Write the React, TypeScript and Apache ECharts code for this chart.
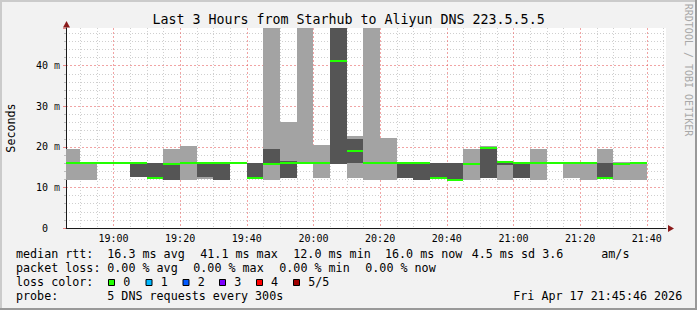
import React, { useEffect, useRef } from 'react';
import * as echarts from 'echarts';

const FONT = '"DejaVu Sans Mono", monospace';
const TITLE = 'Last 3 Hours from Starhub to Aliyun DNS 223.5.5.5';
const Y_NAME = 'Seconds';
const WATERMARK = 'RRDTOOL / TOBI OETIKER';
const AXIS_START = '18:45:46';
const AXIS_END = '21:45:46';
const STEP_MINUTES = 5;
const Y_MAX = 49.3;

// end of each 5-minute step (HH:MM)
const stepEnds = [
  '18:50', '18:55', '19:00', '19:05', '19:10', '19:15', '19:20', '19:25', '19:30', '19:35',
  '19:40', '19:45', '19:50', '19:55', '20:00', '20:05', '20:10', '20:15', '20:20', '20:25',
  '20:30', '20:35', '20:40', '20:45', '20:50', '20:55', '21:00', '21:05', '21:10', '21:15',
  '21:20', '21:25', '21:30', '21:35', '21:40',
];
// outer smoke (light grey): lowest / highest ping, ms
const smokeLow = [
  11.9, 11.9, null, null, null, null, 11.9, 11.9, 12.2, null,
  null, null, 11.9, 12.3, 15.9, 12.3, null, 12.3, 11.9, 11.9,
  null, null, null, null, 11.9, 12.4, 11.9, null, 11.9, 15.9,
  12.4, 11.9, 12.2, 11.9, 11.9,
];
const smokeHigh = [
  19.5, 16.3, null, null, null, null, 19.5, 20.1, 16.3, null,
  null, null, 55, 26.1, 55, 20.5, null, 22.7, 55, 22.2,
  null, null, null, null, 19.5, 20.1, 16.3, null, 19.5, 16.3,
  15.9, 15.9, 19.5, 16.3, 15.9,
];
// inner smoke (dark grey): 2nd / 4th ping, ms
const coreLow = [
  null, null, null, null, 12.5, 12.0, 11.9, null, 12.5, 11.9,
  null, 12.1, 15.9, 12.3, null, null, 15.8, 15.9, null, null,
  12.3, 11.9, 12.1, 11.7, null, 12.4, 15.6, 12.4, null, null,
  null, null, 12.2, null, null,
];
const coreHigh = [
  null, null, null, null, 15.9, 15.9, 15.7, null, 15.9, 15.9,
  null, 15.9, 19.5, 16.4, null, null, 55, 22.0, null, null,
  15.9, 15.9, 15.9, 15.9, null, 19.9, 16.3, 15.9, null, null,
  null, null, 15.9, null, null,
];
// median rtt, ms
const medianRtt = [
  15.9, 15.9, 15.9, 15.9, 15.9, 12.4, 15.7, 15.9, 15.9, 15.9,
  15.9, 12.4, 15.8, 16.0, 15.9, 15.9, 41.1, 18.9, 15.9, 15.9,
  15.9, 15.9, 12.4, 11.9, 15.7, 19.6, 16.3, 15.9, 15.9, 15.9,
  15.9, 15.9, 12.4, 15.7, 15.9,
];

const rttLabel = 'median rtt:';
const rttStats = ['16.3 ms avg', '41.1 ms max', '12.0 ms min', '16.0 ms now', '4.5 ms sd', '3.6', 'am/s'];
const lossLabel = 'packet loss:';
const lossStats = ['0.00 % avg', '0.00 % max', '0.00 % min', '0.00 % now'];
const lossColorLabel = 'loss color:';
const lossColorNames = ['0', '1', '2', '3', '4', '5/5'];
const lossColorValues = ['#22ff00', '#00b8ff', '#0059ff', '#7e00ff', '#ff0000', '#a10000'];
const probeLabel = 'probe:';
const probeText = '5 DNS requests every 300s';
const dateText = 'Fri Apr 17 21:45:46 2026';

const LIGHT = '#a3a3a3';
const DARK = '#555555';
const MEDIAN = lossColorValues[0];

function toMinutes(s: string): number {
  const p = s.split(':').map(Number);
  return p[0] * 60 + p[1] + (p[2] || 0) / 60;
}
function fmtTime(v: number): string {
  const m = Math.round(v);
  const h = Math.floor(m / 60);
  const mm = m % 60;
  return String(h).padStart(2, '0') + ':' + String(mm).padStart(2, '0');
}

const rows = stepEnds.map((t, i) => [
  toMinutes(t), smokeLow[i], smokeHigh[i], coreLow[i], coreHigh[i], medianRtt[i],
]);

function txt(text: string, x: number, y: number, size: number, extra: any = {}) {
  return {
    type: 'text', x, y, silent: true,
    style: {
      text, fill: '#000', font: `${size}px "DejaVu Sans Mono"`,
      textAlign: 'left', align: 'left', textVerticalAlign: 'middle', verticalAlign: 'middle',
      ...extra,
    },
  };
}

export default function App() {
  const ref = useRef<HTMLDivElement>(null);
  useEffect(() => {
    if (!ref.current) return;
    const chart = echarts.init(ref.current, null, { renderer: 'svg' });

    const rttX = [107.3, 200.3, 293.3, 385, 471.7, 542.3, 601.3];
    const lossX = [107.3, 193.3, 279.3, 365.3];
    const colorSqX = [108.5, 146, 183, 219.5, 256.5, 293.5];
    const colorTxtX = [123.3, 160.7, 197.7, 234.3, 271, 308.3];
    const LS = 11.7;
    const rowY = [253.5, 267.8, 282, 296.3];

    const graphics: any[] = [
      // bevel frame
      { type: 'rect', shape: { x: 0, y: 0, width: 697, height: 2 }, style: { fill: '#cbcbcb' }, silent: true },
      { type: 'rect', shape: { x: 0, y: 0, width: 2, height: 310 }, style: { fill: '#cbcbcb' }, silent: true },
      { type: 'rect', shape: { x: 0, y: 308, width: 697, height: 2 }, style: { fill: '#999999' }, silent: true },
      { type: 'rect', shape: { x: 695, y: 0, width: 2, height: 310 }, style: { fill: '#999999' }, silent: true },
      txt(TITLE, 348.5, 19.5, 13.3, { textAlign: 'center', align: 'center' }),
      {
        type: 'text', x: 688.5, y: 70, rotation: -Math.PI / 2, silent: true,
        style: {
          text: WATERMARK, fill: '#a8a8a8', font: '10px "DejaVu Sans Mono"',
          textAlign: 'center', align: 'center', textVerticalAlign: 'middle', verticalAlign: 'middle',
        },
      },
      // arrows
      { type: 'polygon', shape: { points: [[668, 225], [674, 228.5], [668, 232]] }, style: { fill: '#8b1a1a' }, silent: true },
      { type: 'polygon', shape: { points: [[63, 27.5], [66.5, 21], [70, 27.5]] }, style: { fill: '#8b1a1a' }, silent: true },
      txt(rttLabel, 16, rowY[0], LS),
      ...rttStats.map((s, i) => txt(s, rttX[i], rowY[0], LS)),
      txt(lossLabel, 16, rowY[1], LS),
      ...lossStats.map((s, i) => txt(s, lossX[i], rowY[1], LS)),
      txt(lossColorLabel, 16, rowY[2], LS),
      ...lossColorNames.map((s, i) => txt(s, colorTxtX[i], rowY[2], LS)),
      ...lossColorValues.map((c, i) => ({
        type: 'rect', silent: true,
        shape: { x: colorSqX[i], y: 279.5, width: 6, height: 6 },
        style: { fill: c, stroke: '#000', lineWidth: 1 },
      })),
      txt(probeLabel, 16, rowY[3], LS),
      txt(probeText, 107.3, rowY[3], LS),
      txt(dateText, 513.3, rowY[3], LS),
    ];

    const option: any = {
      animation: false,
      backgroundColor: '#f2f2f2',
      textStyle: { fontFamily: FONT },
      grid: {
        left: 66, top: 28, width: 600, height: 200,
        show: true, backgroundColor: '#ffffff', borderWidth: 0,
        outerBoundsMode: 'none', containLabel: false,
      },
      xAxis: {
        type: 'value',
        min: toMinutes(AXIS_START),
        max: toMinutes(AXIS_END),
        splitNumber: 9,
        axisLine: { show: true, onZero: false, lineStyle: { color: '#1a1a1a', width: 1 } },
        axisTick: { show: false },
        axisLabel: {
          formatter: (v: number) => fmtTime(v),
          showMinLabel: false, showMaxLabel: false,
          fontFamily: FONT, fontSize: 10, color: '#000', margin: 5,
        },
        splitLine: {
          show: true, showMinLine: false, showMaxLine: false,
          lineStyle: { color: 'rgba(230,90,90,0.55)', type: [2, 2], width: 1 },
        },
        minorTick: { show: false, splitNumber: 4 },
        minorSplitLine: { show: true, lineStyle: { color: '#cfcfcf', type: [1, 2], width: 1 } },
      },
      yAxis: {
        type: 'value',
        min: 0, max: Y_MAX, interval: 10,
        name: Y_NAME, nameLocation: 'middle', nameGap: 49, nameRotate: 90,
        nameTextStyle: { fontFamily: FONT, fontSize: 11.7, color: '#000' },
        axisLine: { show: true, onZero: false, lineStyle: { color: '#1a1a1a', width: 1 } },
        axisTick: { show: true, length: 3, lineStyle: { color: 'rgba(230,90,90,0.7)' } },
        minorTick: { show: true, splitNumber: 5, length: 2, lineStyle: { color: '#bdbdbd' } },
        axisLabel: {
          showMaxLabel: false,
          margin: 6,
          formatter: (v: number) => (v === 0 ? '{n|0}{u| }' : `{n|${v}}{u|m}`),
          rich: {
            n: { fontFamily: FONT, fontSize: 10, color: '#000' },
            u: { fontFamily: FONT, fontSize: 10, color: '#222', width: 12, align: 'right' },
          },
        },
        splitLine: {
          show: true, showMinLine: false, showMaxLine: false,
          lineStyle: { color: 'rgba(230,90,90,0.55)', type: [2, 2], width: 1 },
        },
        minorSplitLine: { show: true, lineStyle: { color: '#cfcfcf', type: [1, 2], width: 1 } },
      },
      series: [
        {
          type: 'custom',
          silent: true,
          clip: true,
          data: rows,
          encode: { x: 0, y: [1, 2, 3, 4, 5] },
          renderItem: (params: any, api: any) => {
            const end = api.value(0);
            const start = end - STEP_MINUTES;
            const cs = params.coordSys;
            const children: any[] = [];
            const ok = (v: any) => v != null && !isNaN(v);
            const box = (lo: number, hi: number) => {
              const p1 = api.coord([start, hi]);
              const p2 = api.coord([end, lo]);
              const x1 = Math.round(Math.max(p1[0], cs.x));
              const x2 = Math.round(Math.min(p2[0], cs.x + cs.width));
              const y1 = Math.round(Math.max(p1[1], cs.y));
              const y2 = Math.round(Math.min(p2[1], cs.y + cs.height));
              return { x1, x2, y1, y2 };
            };
            const band = (lo: any, hi: any, color: string) => {
              if (!ok(lo) || !ok(hi) || hi <= lo) return;
              const b = box(lo, hi);
              if (b.x2 <= b.x1 || b.y2 <= b.y1) return;
              children.push({
                type: 'rect',
                shape: { x: b.x1, y: b.y1, width: b.x2 - b.x1, height: b.y2 - b.y1 },
                style: { fill: color },
              });
            };
            band(api.value(1), api.value(2), LIGHT);
            band(api.value(3), api.value(4), DARK);
            const m = api.value(5);
            if (ok(m)) {
              const b = box(m, m);
              children.push({
                type: 'rect',
                shape: { x: b.x1, y: b.y1 - 1, width: b.x2 - b.x1, height: 2 },
                style: { fill: MEDIAN },
              });
            }
            return { type: 'group', children };
          },
        },
      ],
      graphic: graphics,
    };

    chart.setOption(option);
    return () => chart.dispose();
  }, []);

  return (
    <div
      ref={ref}
      style={{ position: 'absolute', left: 0, top: 0, width: 697, height: 310 }}
    />
  );
}
